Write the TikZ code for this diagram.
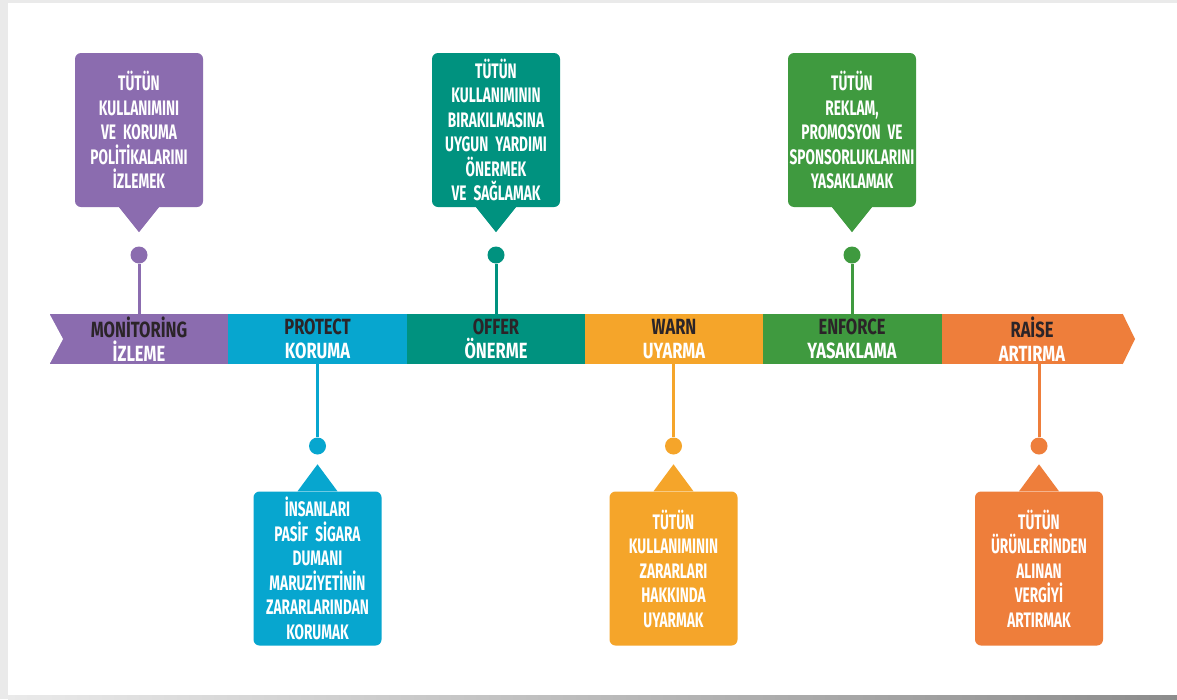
\documentclass[tikz,border=0pt]{standalone}
\usepackage{fontspec}
\usepackage{tikz}
\usetikzlibrary{positioning, calc}
\newfontfamily\bebasfont[FakeStretch=0.65, WordSpace=0.6]{Fira Sans}
\newfontfamily\bandfont[FakeStretch=0.75]{Fira Sans}
\definecolor{mpurple}{HTML}{8B6CAF}
\definecolor{mblue}{HTML}{07A6CF}
\definecolor{mteal}{HTML}{00927F}
\definecolor{morange}{HTML}{F5A52A}
\definecolor{mgreen}{HTML}{3F9A3F}
\definecolor{mred}{HTML}{EE7E3B}
\definecolor{inkdark}{HTML}{2B2428}
\definecolor{framegray}{HTML}{EAEAEA}

\begin{document}
\begin{tikzpicture}[
			x=1pt, y=-1pt,
			segment/.style={
					fill=#1,
					minimum width=179pt,
					minimum height=50pt,
					inner sep=0pt,
					text=white,
					align=center,
					font=\bandfont\bfseries\fontsize{22}{24}\selectfont
				},
			callout/.style={
					fill=#1,
					rounded corners=6pt,
					minimum width=128pt,
					minimum height=154pt,
					inner sep=0pt,
					text width=126pt,
					align=center,
					text=white,
					font=\bebasfont\bfseries\fontsize{21}{24.5}\selectfont
				},
			pin/.style={circle, fill=#1, minimum size=17pt, inner sep=0pt},
			stem/.style={draw=#1, line width=3pt}
		]
		% frame and shadow
		\useasboundingbox (0,0) rectangle (1177,699);
		\fill[framegray] (0,0) rectangle (1177,699);
		\fill[white] (8,3) rectangle (1177,695);
		\shade[left color=framegray, right color=black!45] (8,695) rectangle (1177,699);

		% the band
		\node[segment=mpurple] (seg1) at (139,339) {{\color{inkdark}MONİTORİNG}\\İZLEME};
		\node[segment=mblue] (seg2) at (317.5,339) {{\color{inkdark}PROTECT}\\KORUMA};
		\node[segment=mteal] (seg3) at (496,339) {{\color{inkdark}OFFER}\\ÖNERME};
		\node[segment=morange] (seg4) at (674,339) {{\color{inkdark}WARN}\\UYARMA};
		\node[segment=mgreen] (seg5) at (852,339) {{\color{inkdark}ENFORCE}\\YASAKLAMA};
		\node[segment=mred, minimum width=181pt] (seg6) at (1032,339) {{\color{inkdark}RAİSE}\\ARTIRMA};

		\fill[white] (49,313) -- (63,339) -- (49,365) -- cycle; % notch
		\fill[mred] (seg6.north east) -- (1135,339) -- (seg6.south east) -- cycle; % tip

		% callouts above
		\node[callout=mpurple] (box1) at (139,130) {TÜTÜN\\KULLANIMINI\\VE KORUMA\\POLİTİKALARINI\\İZLEMEK};
		\fill[mpurple] ([xshift=-20pt]box1.south) -- ([yshift=-25pt]box1.south) -- ([xshift=20pt]box1.south) -- cycle;
		\node[pin=mpurple] (dot1) at (139,255) {};
		\draw[stem=mpurple] (dot1) -- (dot1 |- seg1.north);

		\node[callout=mteal] (box3) at (496,130) {TÜTÜN\\KULLANIMININ\\BIRAKILMASINA\\UYGUN YARDIMI\\ÖNERMEK\\VE SAĞLAMAK};
		\fill[mteal] ([xshift=-20pt]box3.south) -- ([yshift=-25pt]box3.south) -- ([xshift=20pt]box3.south) -- cycle;
		\node[pin=mteal] (dot3) at (496,255) {};
		\draw[stem=mteal] (dot3) -- (dot3 |- seg3.north);

		\node[callout=mgreen] (box5) at (852,130) {TÜTÜN\\REKLAM,\\PROMOSYON VE\\SPONSORLUKLARINI\\YASAKLAMAK};
		\fill[mgreen] ([xshift=-20pt]box5.south) -- ([yshift=-25pt]box5.south) -- ([xshift=20pt]box5.south) -- cycle;
		\node[pin=mgreen] (dot5) at (852,255) {};
		\draw[stem=mgreen] (dot5) -- (dot5 |- seg5.north);

		% callouts below
		\node[callout=mblue] (box2) at (317.5,568.5) {İNSANLARI\\PASİF SİGARA\\DUMANI\\MARUZİYETİNİN\\ZARARLARINDAN\\KORUMAK};
		\fill[mblue] ([xshift=-20pt]box2.north) -- ([yshift=27pt]box2.north) -- ([xshift=20pt]box2.north) -- cycle;
		\node[pin=mblue] (dot2) at (317.5,446) {};
		\draw[stem=mblue] (dot2) -- (dot2 |- seg2.south);

		\node[callout=morange] (box4) at (673.5,568.5) {TÜTÜN\\KULLANIMININ\\ZARARLARI\\HAKKINDA\\UYARMAK};
		\fill[morange] ([xshift=-20pt]box4.north) -- ([yshift=27pt]box4.north) -- ([xshift=20pt]box4.north) -- cycle;
		\node[pin=morange] (dot4) at (673.5,446) {};
		\draw[stem=morange] (dot4) -- (dot4 |- seg4.south);

		\node[callout=mred] (box6) at (1039,568.5) {TÜTÜN\\ÜRÜNLERİNDEN\\ALINAN\\VERGİYİ\\ARTIRMAK};
		\fill[mred] ([xshift=-20pt]box6.north) -- ([yshift=27pt]box6.north) -- ([xshift=20pt]box6.north) -- cycle;
		\node[pin=mred] (dot6) at (1039,446) {};
		\draw[stem=mred] (dot6) -- (dot6 |- seg6.south);
	\end{tikzpicture}
\end{document}
